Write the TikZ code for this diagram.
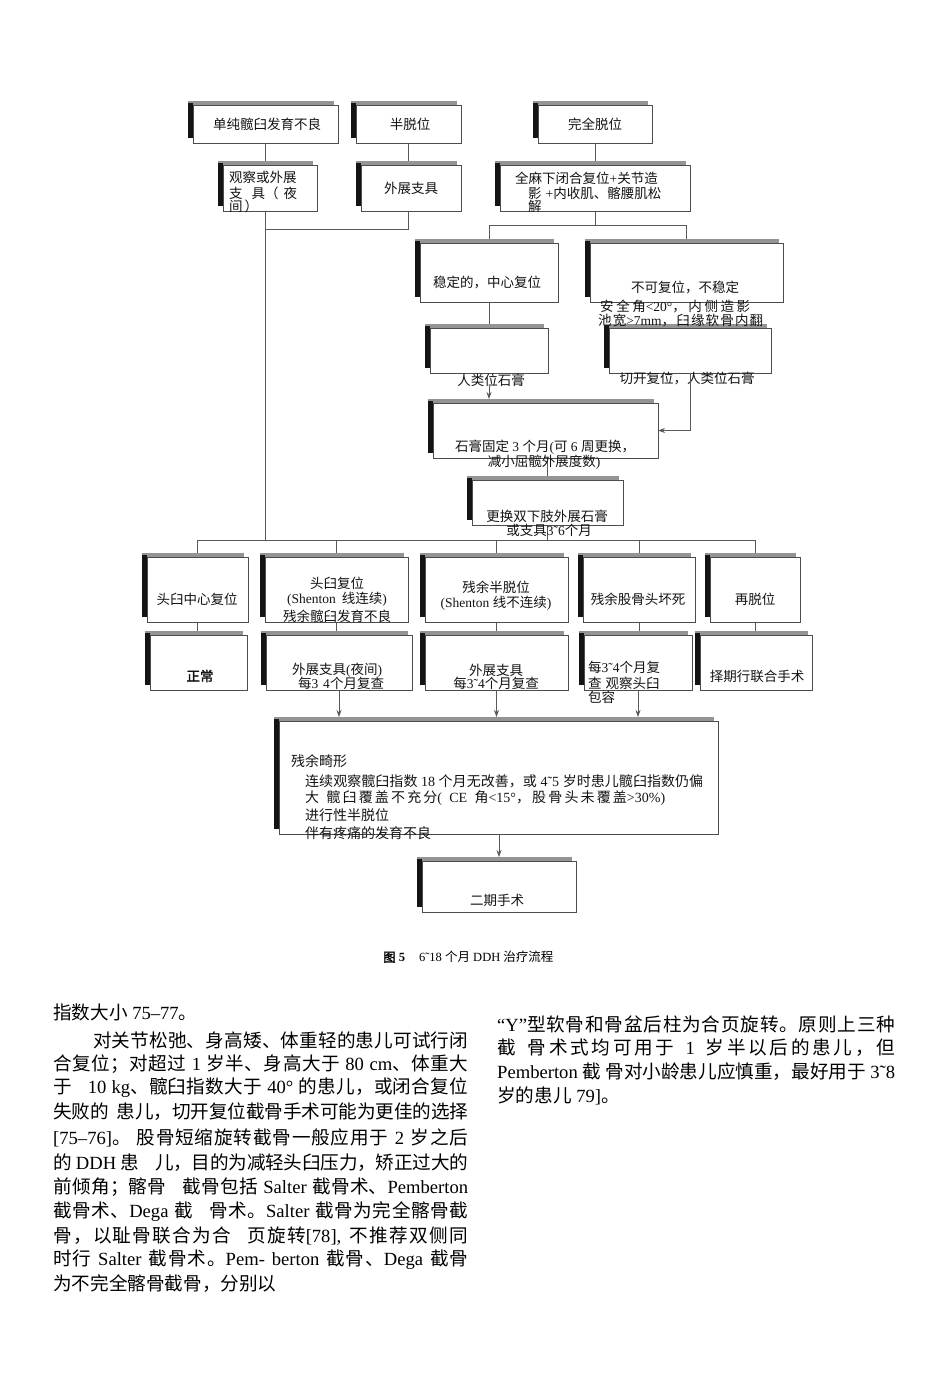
\documentclass[tikz,border=0pt]{standalone}
\usepackage{fontspec}
\setmainfont{Liberation Serif}
\newfontfamily\cjk{Noto Sans CJK SC}[BoldFont={Noto Sans CJK SC},BoldFeatures={FakeBold=2}]
\usetikzlibrary{arrows.meta,calc}
\pgfdeclarelayer{back}
\pgfdeclarelayer{lines}
\pgfdeclarelayer{bg}
\pgfsetlayers{back,lines,bg,main}
\newXeTeXintercharclass\CJKcls
\newcount\cjkc
\def\setcjkrange#1#2{\cjkc=#1\relax
  \loop\XeTeXcharclass\cjkc=\CJKcls\relax
  \ifnum\cjkc<#2\relax\advance\cjkc by 1\relax\repeat}
\setcjkrange{"4E00}{"9FFF}
\setcjkrange{"3000}{"303F}
\setcjkrange{"FF00}{"FFEF}
\XeTeXinterchartoks 0 \CJKcls={\cjk}
\XeTeXinterchartoks 4095 \CJKcls={\cjk}
\XeTeXinterchartoks \CJKcls 0={\rmfamily}
\XeTeXinterchartoks \CJKcls 4095={\rmfamily}
\XeTeXinterchartoks \CJKcls \CJKcls={\hskip0pt plus 1pt minus 0.6pt\relax}
\XeTeXinterchartokenstate=1
\newcommand\DDbox[5]{%
  \node[bx,minimum width={#4-#2},minimum height={#5-#3}] (#1) at ({(#2+#4)/2},{(#3+#5)/2}) {};
  \begin{pgfonlayer}{bg}
    \fill[black!42] ([shift={(-5,-4)}]#1.north west) rectangle ([shift={(-4,-5)}]#1.south east);
    \fill[black!92] ([shift={(-5,-2)}]#1.north west) rectangle ([shift={(0,-5)}]#1.south west);
  \end{pgfonlayer}}
\begin{document}
\begin{tikzpicture}[x=1pt,y=-1pt,
  bx/.style={draw=black!70,line width=0.8pt,fill=white,inner sep=0pt,outer sep=0pt},
  tx/.style={inner sep=0pt,font=\fontsize{13.5}{15}\selectfont,text=black!92},
  txw/.style={tx,anchor=west},
  txi/.style={inner sep=0pt,anchor=west,font=\fontsize{14}{16}\selectfont,text=black!92},
  body/.style={inner sep=0pt,anchor=west,font=\fontsize{18.6}{22}\selectfont},
  ln/.style={draw=black!65,line width=0.8pt},
  ar/.style={ln,-{Stealth[length=7pt,width=5pt]}}]
\begin{pgfonlayer}{back}
\fill[white] (0,0) rectangle (950,1373);
\end{pgfonlayer}
\useasboundingbox (0,0) rectangle (950,1373);

% ---------- boxes ----------
\DDbox{a1}{193}{105}{338}{143}
\DDbox{a2}{356}{105}{461}{143}
\DDbox{a3}{538}{105}{652}{143}
\DDbox{b1}{223}{165}{317}{211}
\DDbox{b2}{361}{165}{461}{211}
\DDbox{b3}{500}{165}{690}{211}
\DDbox{c1}{420}{243}{558}{302}
\DDbox{c2}{590}{243}{783}{302}
\DDbox{d1}{430}{328}{548}{373}
\DDbox{d2}{609}{328}{771}{373}
\DDbox{e}{433}{403}{658}{458}
\DDbox{f}{472}{480}{623}{525}
\DDbox{g1}{147}{557}{248}{622}
\DDbox{g2}{265}{557}{408}{622}
\DDbox{g3}{425}{557}{568}{622}
\DDbox{g4}{583}{557}{695}{622}
\DDbox{g5}{710}{557}{800}{622}
\DDbox{h1}{150}{635}{247}{690}
\DDbox{h2}{266}{635}{412}{690}
\DDbox{h3}{425}{635}{568}{690}
\DDbox{h4}{584}{635}{692}{690}
\DDbox{h5}{700}{635}{812}{690}
\DDbox{i}{279}{721}{718}{834}
\DDbox{j}{422}{861}{576}{912}

% ---------- texts ----------
\node[tx] (a1t) at (267,124) {单纯髋臼发育不良};
\node[tx] (a2t) at (410,124) {半脱位};
\node[tx] (a3t) at (595,124) {完全脱位};
\node[txw] (b1t1) at (229,177) {观察或外展};
\node[txw] (b1t2) at (229,193) {支\hspace{9pt}具（\hspace{5pt}夜};
\node[txw] (b1t3) at (229,206) {间\hspace{2pt}）};
\node[tx] (b2t) at (411,188) {外展支具};
\node[txw] (b3t1) at (515,178) {全麻下闭合复位+关节造};
\node[txw] (b3t2) at (528,193) {影\hspace{4pt}+内收肌、髂腰肌松};
\node[txw] (b3t3) at (528,206) {解};
\node[tx] (c1t) at (487,283) {稳定的，中心复位};
\node[tx] (c2t) at (685,288) {不可复位，不稳定};
\node[txw] (c2t2) at (600,306) {\hbox to 150pt{安全角<20°，内侧造影}};
\node[txw] (c2t3) at (598,320) {\hbox to 165pt{池宽>7mm，臼缘软骨内翻}};
\node[tx] (d1t) at (491,380) {人类位石膏};
\node[tx] (d2t) at (687,378) {切开复位，人类位石膏};
\node[tx] (e1) at (545,447) {石膏固定 3 个月(可 6 周更换，};
\node[tx] (e2) at (544,462) {减小屈髋外展度数)};
\node[tx] (f1) at (547,516) {更换双下肢外展石膏};
\node[tx] (f2) at (549,530) {或支具3˜6个月};
\node[tx] (g1t) at (197,599) {头臼中心复位};
\node[tx] (g2t1) at (337,583) {头臼复位};
\node[tx] (g2t2) at (337,599) {(Shenton\hspace{6pt}线连续)};
\node[tx] (g2t3) at (337,616) {残余髋臼发育不良};
\node[tx] (g3t1) at (496,587) {残余半脱位};
\node[tx] (g3t2) at (496,603) {(Shenton 线不连续)};
\node[tx] (g4t) at (638,599) {残余股骨头坏死};
\node[tx] (g5t) at (755,599) {再脱位};
\node[tx,font=\fontsize{13.5}{15}\selectfont\bfseries] (h1t) at (200,676) {正常};
\node[tx] (h2t1) at (337,670) {外展支具(夜间)};
\node[tx] (h2t2) at (341,683) {每3\hspace{5pt}4个月复查};
\node[tx] (h3t1) at (496,670) {外展支具};
\node[tx] (h3t2) at (496,683) {每3˜4个月复查};
\node[txw] (h4t1) at (588,667) {每3˜4个月复};
\node[txw] (h4t2) at (588,683) {查\hspace{4pt}观察头臼};
\node[txw] (h4t3) at (588,697) {包容};
\node[tx] (h5t) at (757,676) {择期行联合手术};
\node[txi] (i1) at (291,761) {残余畸形};
\node[txi] (i2) at (305,781) {\hbox to 398pt{连续观察髋臼指数 18 个月无改善，或 4˜5 岁时患儿髋臼指数仍偏}};
\node[txi] (i3) at (305,798) {\hbox to 360pt{大 髋臼覆盖不充分( CE 角<15°，股骨头未覆盖>30\%)}};
\node[txi] (i4) at (305,815) {进行性半脱位};
\node[txi] (i5) at (305,833) {伴有疼痛的发育不良};
\node[tx] (jt) at (497,900) {二期手术};

% ---------- connectors ----------
\coordinate (jB) at (0,229);
\coordinate (jC) at (0,225);
\coordinate (bus) at (0,540);
\begin{pgfonlayer}{lines}
\draw[ln] (a1.south) -- (a1.south |- b1.north);
\draw[ln] (a1.south |- b1.south) -- (a1.south |- bus);
\draw[ln] (a2.south) -- (a2.south |- b2.north);
\draw[ln] (b2.south -| a2.south) |- (a1.south |- jB);
\draw[ln] (a3.south) -- (a3.south |- b3.north);
\draw[ln] (b3.south -| a3.south) -- (a3.south |- jC);
\draw[ln] (c1.north |- jC) -- (c2.north |- jC);
\draw[ln] (c1.north |- jC) -- (c1.north);
\draw[ln] (c2.north |- jC) -- (c2.north);
\draw[ln] (c1.south) -- (c1.south |- d1.north);
\draw[ln] (f.north |- e.south) -- (f.north);
\draw[ln] (f.south) -- (f.south |- bus);
\draw[ln] (g1.north |- bus) -- (g5.north |- bus);
\foreach \g in {g1,g2,g3,g4,g5} {\draw[ln] (\g.north |- bus) -- (\g.north);}
\foreach \g/\h in {g1/h1,g2/h2,g3/h3,g4/h4,g5/h5} {\draw[ln] (\g.south) -- (\g.south |- \h.north);}
\end{pgfonlayer}
\draw[ar] (d1t.south -| c1.south) -- ($(c1.south |- e.north)+(0,-4)$);
\draw[ar] (d2.south) |- (e.east);
\draw[ar] (h2.south) -- ($(h2.south |- i.north)+(0,-4)$);
\draw[ar] (h3.south) -- ($(h3.south |- i.north)+(0,-4)$);
\draw[ar] (h4.south) -- ($(h4.south |- i.north)+(0,-4)$);
\draw[ar] (i.south -| j.north) -- ($(j.north)+(0,-4)$);

% ---------- caption ----------
\node[inner sep=0pt,anchor=west,font=\fontsize{12.5}{14}\selectfont] (cap) at (383,957) {{\bfseries 图 5}\hspace{14pt}6˜18 个月 DDH 治疗流程};

% ---------- body text ----------
\node[body] (l1) at (53,1012) {指数大小 75–77。};
\node[body] (l2) at (93,1040) {\hbox to 375pt{对关节松弛、身高矮、体重轻的患儿可试行闭}};
\node[body] (l3) at (53,1064) {\hbox to 415pt{合复位；对超过 1 岁半、身高大于 80 cm、体重大}};
\node[body] (l4) at (53,1088) {\hbox to 415pt{于\hspace{16pt}10 kg、髋臼指数大于 40° 的患儿，或闭合复位}};
\node[body] (l5) at (53,1112) {\hbox to 415pt{失败的\hspace{8pt}患儿，切开复位截骨手术可能为更佳的选择}};
\node[body] (l6) at (53,1138) {\hbox to 415pt{[75–76]。\hspace{6pt}股骨短缩旋转截骨一般应用于 2 岁之后}};
\node[body] (l7) at (53,1163) {\hbox to 415pt{的 DDH 患\hspace{16pt}儿，目的为减轻头臼压力，矫正过大的}};
\node[body] (l8) at (53,1187) {\hbox to 415pt{前倾角；髂骨\hspace{16pt}截骨包括 Salter 截骨术、Pemberton}};
\node[body] (l9) at (53,1212) {\hbox to 415pt{截骨术、Dega 截\hspace{16pt}骨术。Salter 截骨为完全髂骨截}};
\node[body] (l10) at (53,1236) {\hbox to 415pt{骨，以耻骨联合为合\hspace{16pt}页旋转[78], 不推荐双侧同}};
\node[body] (l11) at (53,1260) {\hbox to 415pt{时行 Salter 截骨术。Pem- berton 截骨、Dega 截骨}};
\node[body] (l12) at (53,1284) {为不完全髂骨截骨，分别以};
\node[body] (r1) at (497,1024) {\hbox to 398pt{“Y”型软骨和骨盆后柱为合页旋转。原则上三种}};
\node[body] (r2) at (497,1048) {\hbox to 398pt{截\hspace{12pt}骨术式均可用于 1 岁半以后的患儿，但}};
\node[body] (r3) at (497,1072) {\hbox to 398pt{Pemberton 截 骨对小龄患儿应慎重，最好用于 3˜8}};
\node[body] (r4) at (497,1096) {岁的患儿 79]。};
\end{tikzpicture}
\end{document}
